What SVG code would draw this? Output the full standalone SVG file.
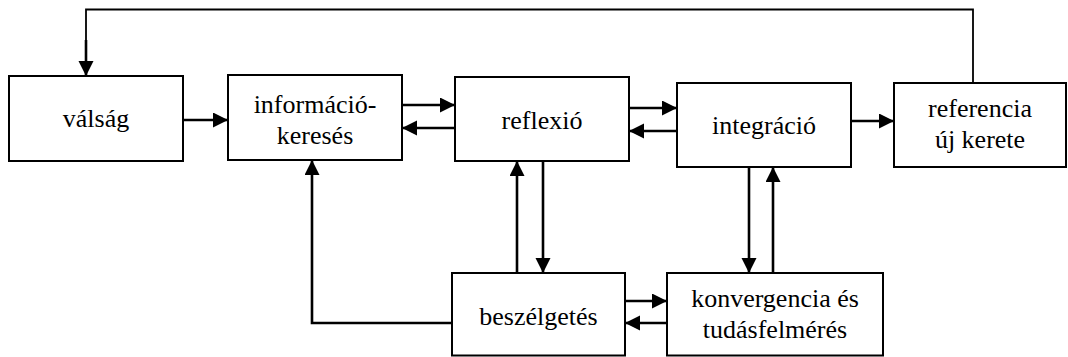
<svg xmlns="http://www.w3.org/2000/svg" width="1068" height="357" viewBox="0 0 1068 357">
<style>
.box{fill:#fff;stroke:#000;stroke-width:2}
.lbl{font-family:"Liberation Serif","Times New Roman","DejaVu Serif",serif;font-size:26px;fill:#000;text-anchor:middle}
.con{fill:none;stroke:#000;stroke-width:2.6}
.thin{fill:none;stroke:#000;stroke-width:1.8}
</style>
<defs>
<marker id="ah" markerUnits="userSpaceOnUse" markerWidth="16" markerHeight="16" refX="15" refY="7.5" orient="auto">
<path d="M0,0 L15,7.5 L0,15 z" fill="#000"/>
</marker>
</defs>
<rect width="1068" height="357" fill="#fff"/>
<g id="connectors">
<polyline class="thin" points="973,83 973,9.5 86,9.5 86,58"/>
<line class="con" x1="86" y1="40" x2="86" y2="76" marker-end="url(#ah)"/>
<line class="con" x1="183" y1="120" x2="228" y2="120" marker-end="url(#ah)"/>
<line class="con" x1="402" y1="105" x2="455" y2="105" marker-end="url(#ah)"/>
<line class="con" x1="455" y1="128" x2="402" y2="128" marker-end="url(#ah)"/>
<line class="con" x1="629" y1="108" x2="677" y2="108" marker-end="url(#ah)"/>
<line class="con" x1="677" y1="131" x2="629" y2="131" marker-end="url(#ah)"/>
<line class="con" x1="851" y1="121" x2="894" y2="121" marker-end="url(#ah)"/>
<polyline class="con" points="452,323 312,323 312,160" marker-end="url(#ah)"/>
<line class="con" x1="517" y1="273" x2="517" y2="161" marker-end="url(#ah)"/>
<line class="con" x1="543" y1="161" x2="543" y2="273" marker-end="url(#ah)"/>
<line class="con" x1="749" y1="167" x2="749" y2="273" marker-end="url(#ah)"/>
<line class="con" x1="773" y1="273" x2="773" y2="167" marker-end="url(#ah)"/>
<line class="con" x1="625" y1="301" x2="667" y2="301" marker-end="url(#ah)"/>
<line class="con" x1="667" y1="323" x2="625" y2="323" marker-end="url(#ah)"/>
</g>
<g id="valsag">
<rect class="box" x="9" y="76" width="174" height="85"/>
<text class="lbl" x="96" y="127">válság</text>
</g>
<g id="informaciokereses">
<rect class="box" x="228" y="75" width="174" height="85"/>
<text class="lbl" x="315" y="113">információ-</text>
<text class="lbl" x="315" y="144">keresés</text>
</g>
<g id="reflexio">
<rect class="box" x="455" y="77" width="174" height="84"/>
<text class="lbl" x="542" y="129">reflexió</text>
</g>
<g id="integracio">
<rect class="box" x="677" y="83" width="174" height="84"/>
<text class="lbl" x="764" y="134">integráció</text>
</g>
<g id="referencia">
<rect class="box" x="894" y="83" width="172" height="84"/>
<text class="lbl" x="980" y="117">referencia</text>
<text class="lbl" x="980" y="148">új kerete</text>
</g>
<g id="beszelgetes">
<rect class="box" x="452" y="273" width="173" height="82.5"/>
<text class="lbl" x="538.5" y="325">beszélgetés</text>
</g>
<g id="konvergencia">
<rect class="box" x="667" y="273" width="216" height="82.5"/>
<text class="lbl" x="775" y="307">konvergencia és</text>
<text class="lbl" x="775" y="338">tudásfelmérés</text>
</g>
</svg>
